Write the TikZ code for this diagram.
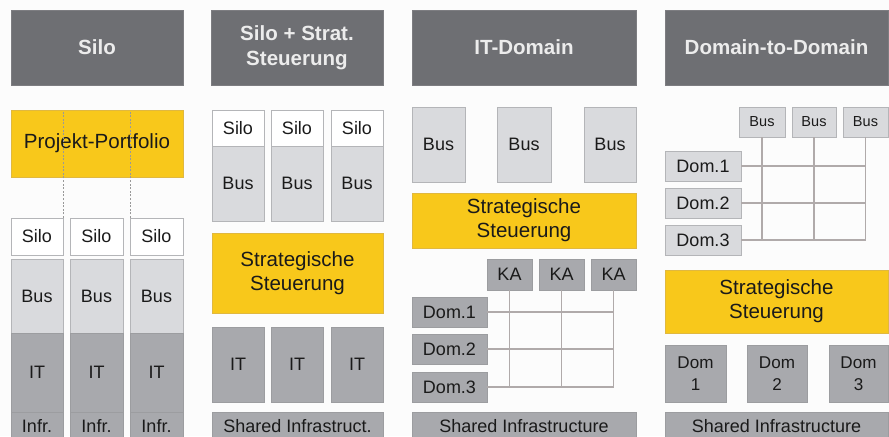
\documentclass[tikz,border=0pt]{standalone}
\usepackage{fontspec}
\setmainfont{Liberation Sans}
\definecolor{bgc}{HTML}{FCFCFC}
\definecolor{hdr}{HTML}{6E6F73}
\definecolor{hdrtxt}{HTML}{ECECEC}
\definecolor{yel}{HTML}{F8C81B}
\definecolor{yelb}{HTML}{E0B840}
\definecolor{lg}{HTML}{D9DADD}
\definecolor{lgb}{HTML}{B4B5B8}
\definecolor{mg}{HTML}{A8A9AD}
\definecolor{mgb}{HTML}{9C9DA0}
\definecolor{txt}{HTML}{1A1A1A}
\definecolor{grid}{HTML}{B0AAAA}
\newcommand\pbox[7]{%
  \node[#2, anchor=north west, minimum width={(#5-#3)*0.75pt}, minimum height={(#6-#4)*0.75pt}] (#1) at (#3,#4) {#7};}
\tikzset{
  base/.style={inner sep=0pt, outer sep=0pt, line width=0.6pt, align=center, text=txt,
     font=\fontsize{13.5}{16.5}\selectfont},
  hdrbox/.style={base, fill=hdr, draw=hdr!90!white, text=hdrtxt,
     font=\fontsize{15.4}{18.6}\selectfont\bfseries},
  yelbox/.style={base, fill=yel, draw=yelb, font=\fontsize{15.4}{18}\selectfont},
  whbox/.style={base, fill=white, draw=lgb},
  lgbox/.style={base, fill=lg, draw=lgb},
  mgbox/.style={base, fill=mg, draw=mgb},
  smallf/.style={font=\fontsize{10.9}{13}\selectfont},
  domf/.style={font=\fontsize{12.8}{16.2}\selectfont},
  dsh/.style={draw=gray!80, line width=0.6pt, dash pattern=on 1.5pt off 1.2pt},
  gridl/.style={draw=grid, line width=1.1pt}
}
\begin{document}
\begin{tikzpicture}[x=0.75pt,y=-0.75pt]
\useasboundingbox (0,0) rectangle (889,436);
\fill[bgc] (0,0) rectangle (889,436);
\clip (0,0) rectangle (889,436);
% ---------- Column 1: Silo
\pbox{h1}{hdrbox}{11}{10}{183}{85}{Silo}
\pbox{pp}{yelbox}{11}{110}{183}{177}{Projekt-Portfolio}
\pbox{s1}{whbox}{11}{218}{63}{255}{Silo}
\pbox{s2}{whbox}{70}{218}{123}{255}{Silo}
\pbox{s3}{whbox}{130}{218}{183}{255}{Silo}
\pbox{b1}{lgbox}{11}{259}{63}{333}{Bus}
\pbox{b2}{lgbox}{70}{259}{123}{333}{Bus}
\pbox{b3}{lgbox}{130}{259}{183}{333}{Bus}
\pbox{i1}{mgbox}{11}{333}{63}{412}{IT}
\pbox{i2}{mgbox}{70}{333}{123}{412}{IT}
\pbox{i3}{mgbox}{130}{333}{183}{412}{IT}
\pbox{f1}{mgbox}{11}{412}{63}{440}{Infr.}
\pbox{f2}{mgbox}{70}{412}{123}{440}{Infr.}
\pbox{f3}{mgbox}{130}{412}{183}{440}{Infr.}
\draw[dsh] (s1.north east) -- (s1.north east |- pp.north);
\draw[dsh] (s3.north west) -- (s3.north west |- pp.north);
% ---------- Column 2: Silo + Strat. Steuerung
\pbox{h2}{hdrbox}{211}{10}{383}{85}{Silo + Strat.\\Steuerung}
\pbox{t1}{whbox}{212}{110}{264}{146}{Silo}
\pbox{t2}{whbox}{271}{110}{323}{146}{Silo}
\pbox{t3}{whbox}{331}{110}{383}{146}{Silo}
\pbox{u1}{lgbox}{212}{146}{264}{221}{Bus}
\pbox{u2}{lgbox}{271}{146}{323}{221}{Bus}
\pbox{u3}{lgbox}{331}{146}{383}{221}{Bus}
\pbox{ss2}{yelbox}{212}{233}{383}{313}{Strategische\\Steuerung}
\pbox{v1}{mgbox}{212}{327}{264}{402}{IT}
\pbox{v2}{mgbox}{271}{327}{323}{402}{IT}
\pbox{v3}{mgbox}{331}{327}{383}{402}{IT}
\pbox{sh2}{mgbox}{212}{412}{383}{440}{Shared Infrastruct.}
% ---------- Column 3: IT-Domain
\pbox{h3}{hdrbox}{412}{10}{636}{85}{IT-Domain}
\pbox{c1}{lgbox}{412}{107}{465}{182}{Bus}
\pbox{c2}{lgbox}{497}{107}{551}{182}{Bus}
\pbox{c3}{lgbox}{584}{107}{636}{182}{Bus}
\pbox{ss3}{yelbox}{412}{193}{636}{248}{Strategische\\Steuerung}
\pbox{ka1}{mgbox}{487}{259}{532}{290}{KA}
\pbox{ka2}{mgbox}{539}{259}{584}{290}{KA}
\pbox{ka3}{mgbox}{591}{259}{636}{290}{KA}
\pbox{d1}{mgbox}{412}{297}{487}{327}{Dom.1}
\pbox{d2}{mgbox}{412}{334}{487}{364}{Dom.2}
\pbox{d3}{mgbox}{412}{372}{487}{402}{Dom.3}
\pbox{sh3}{mgbox}{412}{412}{636}{440}{Shared Infrastructure}
\foreach \k in {ka1,ka2,ka3} \draw[gridl] (\k.south) -- (\k.south |- d3.east);
\foreach \d in {d1,d2,d3} \draw[gridl] (\d.east) -- (\d.east -| ka3.south);
% ---------- Column 4: Domain-to-Domain
\pbox{h4}{hdrbox}{665}{10}{888}{85}{Domain-to-Domain}
\pbox{e1}{lgbox,smallf}{739}{107}{785}{137}{Bus}
\pbox{e2}{lgbox,smallf}{792}{107}{836}{137}{Bus}
\pbox{e3}{lgbox,smallf}{843}{107}{888}{137}{Bus}
\pbox{g1}{lgbox}{665}{151}{741}{181}{Dom.1}
\pbox{g2}{lgbox}{665}{188}{741}{218}{Dom.2}
\pbox{g3}{lgbox}{665}{225}{741}{255}{Dom.3}
\foreach \k in {e1,e2,e3} \draw[gridl] (\k.south) -- (\k.south |- g3.east);
\foreach \d in {g1,g2,g3} \draw[gridl] (\d.east) -- (\d.east -| e3.south);
\pbox{ss4}{yelbox}{665}{270}{888}{333}{Strategische\\Steuerung}
\pbox{m1}{mgbox,domf}{665}{345}{726}{402}{Dom\\1}
\pbox{m2}{mgbox,domf}{747}{345}{807}{402}{Dom\\2}
\pbox{m3}{mgbox,domf}{829}{345}{888}{402}{Dom\\3}
\pbox{sh4}{mgbox}{665}{412}{888}{440}{Shared Infrastructure}
\end{tikzpicture}
\end{document}
